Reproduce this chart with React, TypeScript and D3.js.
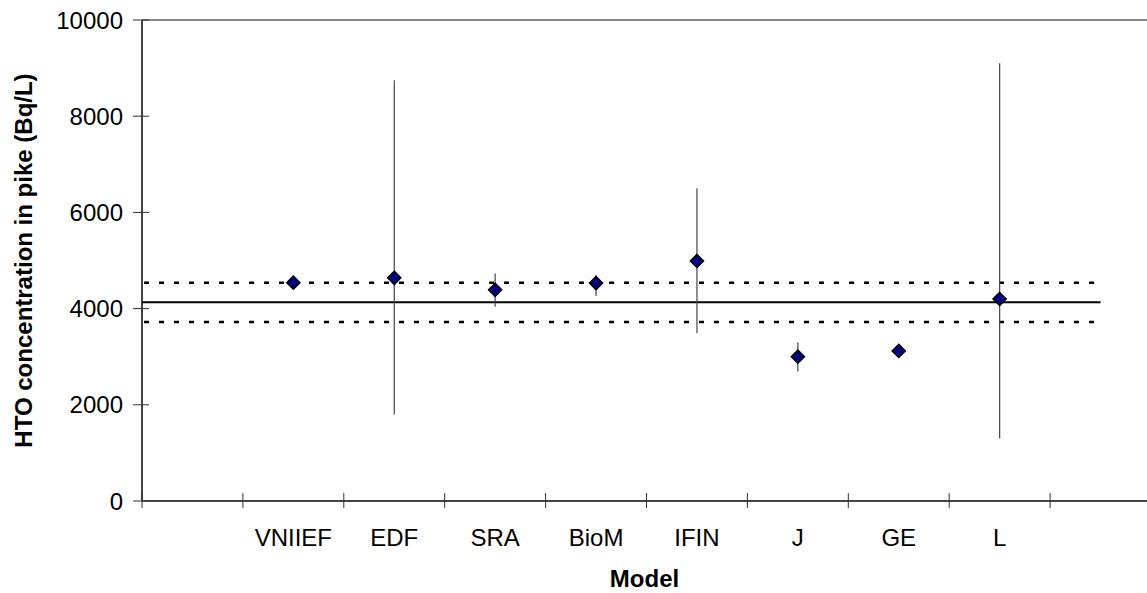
import React, { useEffect, useRef } from "react";
import * as d3 from "d3";

// categories (blank slots at both ends as in the original sheet)
const categories = ["", "VNIIEF", "EDF", "SRA", "BioM", "IFIN", "J", "GE", "L", " "];
const models = ["VNIIEF", "EDF", "SRA", "BioM", "IFIN", "J", "GE", "L"];
const predicted = [4540, 4640, 4390, 4530, 4990, 3000, 3120, 4200];
const errLow = [null, 1800, 4040, 4260, 3490, 2690, null, 1300];
const errHigh = [null, 8750, 4730, 4700, 6500, 3300, null, 9100];
const observedMean = 4130;
const observedLow = 3720;
const observedHigh = 4540;
const yTicks = [0, 2000, 4000, 6000, 8000, 10000];

const W = 1147;
const H = 593;

const App = () => {
  const ref = useRef<SVGSVGElement>(null);

  useEffect(() => {
    const svg = d3.select(ref.current);
    svg.selectAll("*").remove();

    const left = 142;
    const top = 20;
    const bottom = 501;
    const step = 100.9;

    const x = d3
      .scaleBand()
      .domain(categories)
      .range([left, left + step * categories.length])
      .paddingInner(0)
      .paddingOuter(0);
    const y = d3.scaleLinear().domain([0, 10000]).range([bottom, top]);
    const cx = (c) => x(c) + x.bandwidth() / 2;

    const font = "'Liberation Sans', Arial, sans-serif";
    const fs = 24;

    // top border
    svg
      .append("line")
      .attr("x1", left)
      .attr("x2", W)
      .attr("y1", top)
      .attr("y2", top)
      .attr("stroke", "#888")
      .attr("stroke-width", 2);

    // y axis
    svg
      .append("line")
      .attr("x1", left)
      .attr("x2", left)
      .attr("y1", top)
      .attr("y2", bottom)
      .attr("stroke", "#444")
      .attr("stroke-width", 2);

    svg
      .append("g")
      .selectAll("line")
      .data(yTicks)
      .join("line")
      .attr("x1", left - 9)
      .attr("x2", left + 7)
      .attr("y1", (d) => y(d))
      .attr("y2", (d) => y(d))
      .attr("stroke", "#333")
      .attr("stroke-width", 1);

    svg
      .append("g")
      .selectAll("text")
      .data(yTicks)
      .join("text")
      .attr("x", 123)
      .attr("y", (d) => y(d))
      .attr("dy", "0.36em")
      .attr("text-anchor", "end")
      .attr("font-family", font)
      .attr("font-size", fs)
      .text((d) => d);

    // x axis
    svg
      .append("line")
      .attr("x1", left)
      .attr("x2", W)
      .attr("y1", bottom)
      .attr("y2", bottom)
      .attr("stroke", "#444")
      .attr("stroke-width", 2);

    svg
      .append("g")
      .selectAll("line")
      .data(categories)
      .join("line")
      .attr("x1", (d) => x(d))
      .attr("x2", (d) => x(d))
      .attr("y1", bottom - 8)
      .attr("y2", bottom + 7)
      .attr("stroke", "#333")
      .attr("stroke-width", 1);

    svg
      .append("g")
      .selectAll("text")
      .data(categories)
      .join("text")
      .attr("x", (d) => cx(d))
      .attr("y", 546)
      .attr("text-anchor", "middle")
      .attr("font-family", font)
      .attr("font-size", fs)
      .text((d) => d);

    // titles
    svg
      .append("text")
      .attr("x", (left + W) / 2)
      .attr("y", 587)
      .attr("text-anchor", "middle")
      .attr("font-family", font)
      .attr("font-size", fs)
      .attr("font-weight", "bold")
      .text("Model");

    svg
      .append("text")
      .attr("transform", `translate(32,${(top + bottom) / 2}) rotate(-90)`)
      .attr("text-anchor", "middle")
      .attr("font-family", font)
      .attr("font-size", fs)
      .attr("font-weight", "bold")
      .text("HTO concentration in pike (Bq/L)");

    // observed mean and range
    const lineEnd = cx(" ");
    svg
      .append("line")
      .attr("x1", left)
      .attr("x2", lineEnd)
      .attr("y1", y(observedMean))
      .attr("y2", y(observedMean))
      .attr("stroke", "#000")
      .attr("stroke-width", 2);

    svg
      .append("g")
      .selectAll("line")
      .data([observedLow, observedHigh])
      .join("line")
      .attr("x1", left + 2)
      .attr("x2", lineEnd)
      .attr("y1", (d) => y(d))
      .attr("y2", (d) => y(d))
      .attr("stroke", "#000")
      .attr("stroke-width", 2.5)
      .attr("stroke-dasharray", "5 10");

    // error bars
    const bars = models
      .map((m, i) => ({ m, lo: errLow[i], hi: errHigh[i] }))
      .filter((d) => d.lo != null);
    svg
      .append("g")
      .selectAll("line")
      .data(bars)
      .join("line")
      .attr("x1", (d) => cx(d.m))
      .attr("x2", (d) => cx(d.m))
      .attr("y1", (d) => y(d.lo))
      .attr("y2", (d) => y(d.hi))
      .attr("stroke", "#444")
      .attr("stroke-width", 1.2);

    // markers
    const diamond = d3.symbol().type(d3.symbolDiamond2).size(110);
    svg
      .append("g")
      .selectAll("path")
      .data(models)
      .join("path")
      .attr("d", diamond)
      .attr("transform", (d, i) => `translate(${cx(d)},${y(predicted[i])})`)
      .attr("fill", "#000080")
      .attr("stroke", "#000")
      .attr("stroke-width", 1.5);
  });

  return (
    <svg
      ref={ref}
      width={W}
      height={H}
      style={{ position: "absolute", left: 0, top: 0, background: "#fff" }}
    ></svg>
  );
};

export default App;
